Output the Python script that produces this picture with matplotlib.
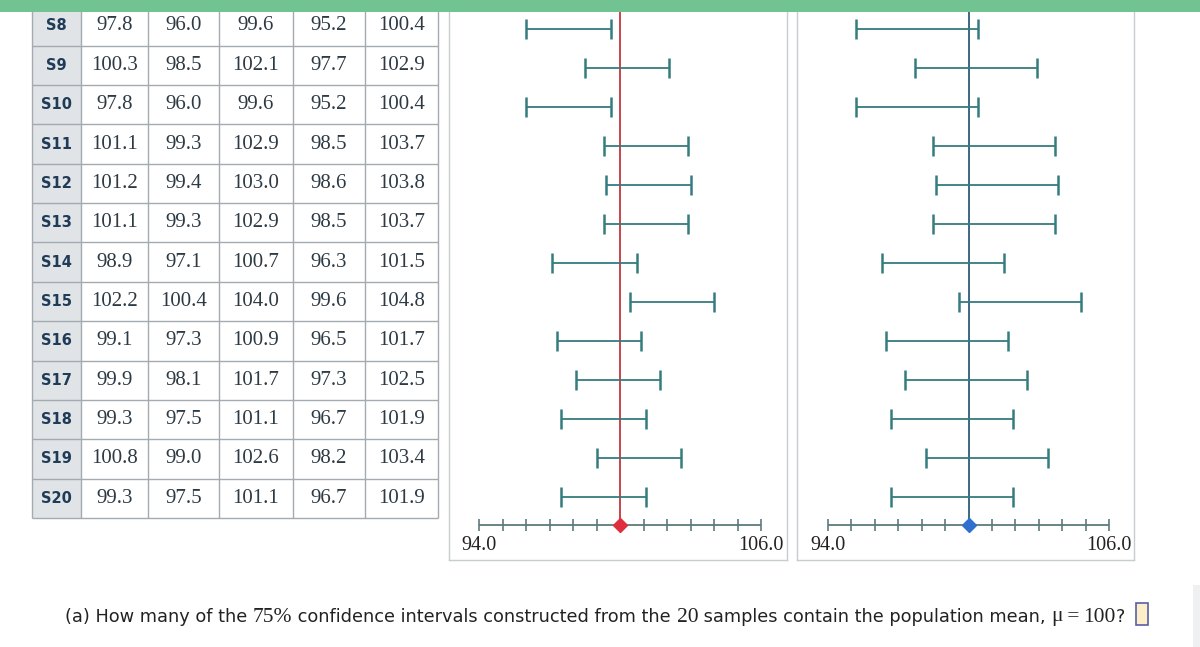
import matplotlib.pyplot as plt
from matplotlib.patches import Rectangle
import numpy as np

# table rows (sample, mean, 75% CI, 95% CI)
samples = ["S8", "S9", "S10", "S11", "S12", "S13", "S14",
           "S15", "S16", "S17", "S18", "S19", "S20"]
means = [97.8, 100.3, 97.8, 101.1, 101.2, 101.1, 98.9,
         102.2, 99.1, 99.9, 99.3, 100.8, 99.3]
lo75 = [96.0, 98.5, 96.0, 99.3, 99.4, 99.3, 97.1,
        100.4, 97.3, 98.1, 97.5, 99.0, 97.5]
hi75 = [99.6, 102.1, 99.6, 102.9, 103.0, 102.9, 100.7,
        104.0, 100.9, 101.7, 101.1, 102.6, 101.1]
lo95 = [95.2, 97.7, 95.2, 98.5, 98.6, 98.5, 96.3,
        99.6, 96.5, 97.3, 96.7, 98.2, 96.7]
hi95 = [100.4, 102.9, 100.4, 103.7, 103.8, 103.7, 101.5,
        104.8, 101.7, 102.5, 101.9, 103.4, 101.9]
mu = 100.0
axis_lo, axis_hi = 94.0, 106.0
axis_labels = ["94.0", "106.0"]

W, H = 1200, 647
fig = plt.figure(figsize=(W / 100, H / 100), dpi=100)
fig.patch.set_facecolor("white")

SERIF = "Liberation Serif"
SANS = "DejaVu Sans"
ci_color = "#357c7e"
frame_color = "#c6ccd0"


def px_axes(x0, y0, x1, y1):
    return fig.add_axes([x0 / W, 1 - y1 / H, (x1 - x0) / W, (y1 - y0) / H])


# ---- table ----
tab = px_axes(32, 0, 438, 518)
col_edges = [32, 81, 147.5, 219, 292.5, 364.5, 438]
row_h = 39.36
tab.set_xlim(col_edges[0], col_edges[-1])
tab.set_ylim((518 - 26) / row_h, -26 / row_h)
tab.axis("off")
n = len(samples)
grid_c = "#a3abb0"
tab.add_patch(Rectangle((col_edges[0], -1), col_edges[1] - col_edges[0], n + 0.5,
                        facecolor="#e0e4e7", edgecolor="none", zorder=0))
for e in col_edges:
    tab.vlines(e, -1, n - 0.5, color=grid_c, lw=1, clip_on=False)
for r in range(n):
    tab.hlines(r + 0.5, col_edges[0], col_edges[-1], color=grid_c, lw=1, clip_on=False)
cols = [means, lo75, hi75, lo95, hi95]
for r, name in enumerate(samples):
    tab.text((col_edges[0] + col_edges[1]) / 2, r, name, ha="center", va="center",
             fontsize=10.5, fontweight="bold", family=SANS, color="#1f3b57")
    for c, vals in enumerate(cols):
        cx = (col_edges[c + 1] + col_edges[c + 2]) / 2
        tab.text(cx, r, f"{vals[r]:.1f}", ha="center", va="center",
                 fontsize=15, family=SERIF, color="#2d3a44")


# ---- interval panels ----
def panel(x0, x1, p94, p106, lo, hi, mu_color, dot_color):
    ax = px_axes(x0, 0, x1, 560)
    scale = (p106 - p94) / (axis_hi - axis_lo)
    ax.set_xlim(axis_lo - (p94 - x0) / scale, axis_hi + (x1 - p106) / scale)
    r_step, r0 = 39.03, 29
    ax.set_ylim((560 - r0) / r_step, -r0 / r_step)
    axis_row = (525 - r0) / r_step
    lab_row = (546 - r0) / r_step
    ax.set_xticks([])
    ax.set_yticks([])
    for s in ax.spines.values():
        s.set_color(frame_color)
        s.set_linewidth(1)

    rows = np.arange(len(samples))
    m = np.array(means)
    ax.errorbar(m, rows, xerr=[m - np.array(lo), np.array(hi) - m], fmt="none",
                ecolor=ci_color, elinewidth=1.3, capsize=7.2, capthick=1.8, zorder=3)
    ax.vlines(mu, -2, axis_row, color=mu_color, lw=1.3, zorder=2)
    ax.hlines(axis_row, axis_lo, axis_hi, color="#5d7a7d", lw=1.3, zorder=2)
    ax.vlines(np.arange(axis_lo, axis_hi + 1), axis_row - 0.15, axis_row + 0.15,
              color="#5d7a7d", lw=1.2, zorder=2)
    ax.plot([mu], [axis_row], marker="D", markersize=7, color=dot_color,
            markeredgecolor=dot_color, zorder=4)
    ax.text(axis_lo, lab_row, axis_labels[0], ha="center", va="center",
            fontsize=14.5, family=SERIF, color="#222222")
    ax.text(axis_hi, lab_row, axis_labels[1], ha="center", va="center",
            fontsize=14.5, family=SERIF, color="#222222")
    return ax


panel(449, 787, 479.3, 761.0, lo75, hi75, "#c8343c", "#de2f3e")
panel(797, 1134, 827.7, 1109.3, lo95, hi95, "#2c5d7c", "#2f6fce")

# top green band and right gutter
fig.patches.append(Rectangle((0, 1 - 12 / H), 1, 12 / H, transform=fig.transFigure,
                             facecolor="#72c392", edgecolor="none", zorder=10))
fig.patches.append(Rectangle((1193 / W, 0), 7 / W, 62 / H, transform=fig.transFigure,
                             facecolor="#eef0f2", edgecolor="none", zorder=10))

# ---- question line ----
parts = [("(a) How many of the ", SANS), ("75%", SERIF),
         (" confidence intervals constructed from the ", SANS), ("20", SERIF),
         (" samples contain the population mean, ", SANS), ("\u03bc", SERIF),
         ("\u2009=\u2009", SERIF), ("100", SERIF), ("?", SANS)]
renderer = fig.canvas.get_renderer()
x = 65
y = 1 - 621.5 / H
for txt, fam in parts:
    size = 12.8 if fam == SANS else 15.5
    t = fig.text(x / W, y, txt, ha="left", va="baseline", fontsize=size,
                 family=[fam, "DejaVu Sans"], color="#222222")
    bb = t.get_window_extent(renderer)
    x = bb.x1
fig.patches.append(Rectangle(((x + 11) / W, 1 - 625 / H), 12 / W, 22 / H,
                             transform=fig.transFigure, facecolor="#fcefc7",
                             edgecolor="#5a5ea8", lw=1.2, zorder=10))

fig.savefig("out.png", dpi=100)
